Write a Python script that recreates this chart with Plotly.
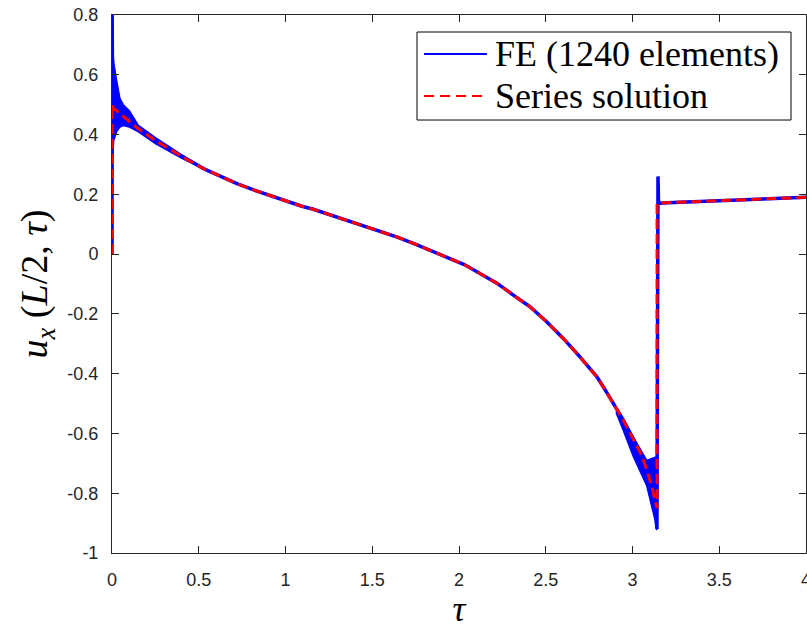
import plotly.graph_objects as go

# ---------------- data ----------------
tau_series = [0.0, 0.0, 0.005, 0.046, 0.075, 0.15, 0.25, 0.35, 0.44, 0.53, 0.63, 0.72,
              0.82, 0.97, 1.09, 1.16, 1.26, 1.35, 1.45, 1.545, 1.64, 1.737, 1.83, 1.929,
              2.03, 2.121, 2.22, 2.313, 2.409, 2.505, 2.601, 2.697, 2.745, 2.794, 2.84, 2.889,
              2.947, 3.005, 3.05, 3.082, 3.115, 3.1416, 3.1416, 3.2, 3.6, 4.0]
u_series = [0.0, 0.50, 0.49, 0.47, 0.459, 0.42, 0.38, 0.345, 0.314, 0.285, 0.259, 0.236,
            0.214, 0.184, 0.161, 0.150, 0.131, 0.114, 0.096, 0.078, 0.058, 0.036, 0.014, -0.009,
            -0.035, -0.065, -0.098, -0.137, -0.176, -0.226, -0.282, -0.344, -0.375, -0.410, -0.452,
            -0.500, -0.555, -0.620, -0.670, -0.720, -0.785, -0.850, 0.170, 0.172, 0.180, 0.190]

tau_fe = [0.0, 0.001, 0.004, 0.046, 0.075, 0.15, 0.25, 0.35, 0.44, 0.53, 0.63, 0.72,
          0.82, 0.97, 1.09, 1.16, 1.26, 1.35, 1.45, 1.545, 1.64, 1.737, 1.83, 1.929,
          2.03, 2.121, 2.22, 2.313, 2.409, 2.505, 2.601, 2.697, 2.745, 2.794, 2.84, 2.889,
          2.947, 3.005, 3.05, 3.082, 3.125, 3.141, 3.147, 3.15, 3.2, 3.6, 4.0]
u_fe = [0.0, 0.80, 0.45, 0.47, 0.459, 0.42, 0.38, 0.345, 0.314, 0.285, 0.259, 0.236,
        0.214, 0.184, 0.161, 0.150, 0.131, 0.114, 0.096, 0.078, 0.058, 0.036, 0.014, -0.009,
        -0.035, -0.065, -0.098, -0.137, -0.176, -0.226, -0.282, -0.344, -0.375, -0.410, -0.452,
        -0.500, -0.555, -0.620, -0.670, -0.720, -0.800, -0.920, 0.260, 0.170, 0.172, 0.180, 0.190]

# envelope of the FE oscillations near tau = 0
tau_osc_a = [0.002, 0.01, 0.027, 0.046, 0.065, 0.10, 0.15, 0.25, 0.40, 0.60]
upper_osc_a = [0.70, 0.64, 0.58, 0.52, 0.50, 0.48, 0.432, 0.39, 0.333, 0.267]
lower_osc_a = [0.32, 0.38, 0.41, 0.425, 0.43, 0.425, 0.41, 0.37, 0.321, 0.265]

# envelope of the FE oscillations near tau = pi
tau_osc_b = [2.905, 2.947, 3.005, 3.082, 3.13, 3.141]
upper_osc_b = [-0.525, -0.552, -0.612, -0.690, -0.680, -0.680]
lower_osc_b = [-0.530, -0.590, -0.678, -0.775, -0.890, -0.923]

x_tickvals = [0, 0.5, 1, 1.5, 2, 2.5, 3, 3.5, 4]
x_ticktext = ["0", "0.5", "1", "1.5", "2", "2.5", "3", "3.5", "4"]
y_tickvals = [-1, -0.8, -0.6, -0.4, -0.2, 0, 0.2, 0.4, 0.6, 0.8]
y_ticktext = ["-1", "-0.8", "-0.6", "-0.4", "-0.2", "0", "0.2", "0.4", "0.6", "0.8"]

legend_fe = "FE (1240 elements)"
legend_series = "Series solution"

BLUE = "#0000FF"
RED = "#FF0000"
AXC = "#262626"
SERIF = "Liberation Serif, Times New Roman, serif"

fig = go.Figure()

for tt, up, lo in [(tau_osc_a, upper_osc_a, lower_osc_a),
                   (tau_osc_b, upper_osc_b, lower_osc_b)]:
    fig.add_trace(go.Scatter(
        x=tt + tt[::-1], y=up + lo[::-1], mode="lines", fill="toself",
        fillcolor=BLUE, line=dict(color=BLUE, width=1.5),
        showlegend=False, hoverinfo="skip"))

fig.add_trace(go.Scatter(x=tau_fe, y=u_fe, mode="lines", name=legend_fe,
                         line=dict(color=BLUE, width=3.5), showlegend=False))
fig.add_trace(go.Scatter(x=tau_series, y=u_series, mode="lines", name=legend_series,
                         line=dict(color=RED, width=3, dash="10px,5px"), showlegend=False))

axis_common = dict(showline=True, linecolor=AXC, linewidth=1, mirror="ticks",
                   ticks="inside", ticklen=7, tickwidth=1, tickcolor=AXC,
                   showgrid=False, zeroline=False, automargin=False,
                   tickfont=dict(family="Liberation Sans, Arial", size=18, color=AXC))

fig.update_xaxes(range=[0, 4], tickvals=x_tickvals, ticktext=x_ticktext,
                 ticklabelstandoff=10, ticklabeloverflow="allow",
                 title=dict(text="<i>τ</i>", standoff=14,
                            font=dict(family=SERIF, size=36, color="black")),
                 **axis_common)
fig.update_yaxes(range=[-1, 0.8], tickvals=y_tickvals, ticktext=y_ticktext,
                 ticklabelstandoff=9,
                 title=dict(text="<i>u</i><sub><i>x</i></sub> (<i>L</i>/2, <i>τ</i>)", standoff=8,
                            font=dict(family=SERIF, size=38, color="black")),
                 **axis_common)

# legend box drawn in the MATLAB style (paper coordinates)
box_x0, box_x1, box_y0, box_y1 = 0.4395, 0.9784, 0.8048, 0.9684
row_y = [0.9275, 0.8494]
sample_x0, sample_x1, text_x = 0.4496, 0.5403, 0.549

fig.add_shape(type="rect", xref="paper", yref="paper",
              x0=box_x0, x1=box_x1, y0=box_y0, y1=box_y1,
              line=dict(color="black", width=1), fillcolor="white", layer="above")
fig.add_shape(type="line", xref="paper", yref="paper",
              x0=sample_x0, x1=sample_x1, y0=row_y[0], y1=row_y[0],
              line=dict(color=BLUE, width=2), layer="above")
fig.add_shape(type="line", xref="paper", yref="paper",
              x0=sample_x0, x1=sample_x1, y0=row_y[1], y1=row_y[1],
              line=dict(color=RED, width=2, dash="10px,6px"), layer="above")
for txt, yy in zip([legend_fe, legend_series], row_y):
    fig.add_annotation(text=txt, xref="paper", yref="paper", x=text_x, y=yy,
                       xanchor="left", yanchor="middle", showarrow=False,
                       font=dict(family=SERIF, size=36, color="black"))

fig.update_layout(
    width=807, height=629,
    margin=dict(l=112, r=1, t=15, b=76, autoexpand=False),
    paper_bgcolor="white", plot_bgcolor="white",
    showlegend=False,
)

fig.write_html("out.html")
